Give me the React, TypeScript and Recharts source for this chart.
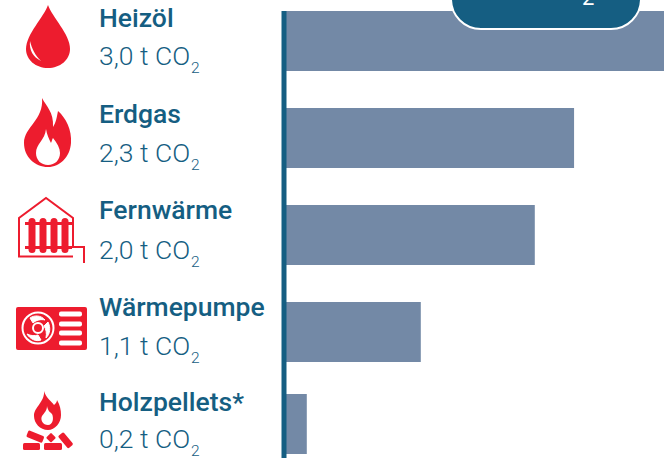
import React from "react";
import { BarChart, Bar, XAxis, YAxis } from "recharts";

const categories = ["Heizöl", "Erdgas", "Fernwärme", "Wärmepumpe", "Holzpellets*"];
const co2Labels = ["3,0 t CO", "2,3 t CO", "2,0 t CO", "1,1 t CO", "0,2 t CO"];
const barValues = [3.0, 2.29, 1.98, 1.08, 0.18];
const rowRanks = [0, 1, 2, 3, 3.95];

const data = categories.map((name, i) => ({ name, value: barValues[i], rank: rowRanks[i] }));

const BLUE = "#155e82";
const BAR = "#7389a6";
const RED = "#ed1c2e";
const FONT = "Roboto, sans-serif";

function Drop() {
  return (
    <g>
      <path d="M48 5 C52 17 70 34 70 49 C70 60 60 68 48 68 C36 68 26 60 26 49 C26 34 44 17 48 5 Z" fill={RED} />
      <path d="M30 41 C29 50 33 57 41 61 C35 55 32 49 30 41 Z" fill="#fff" />
    </g>
  );
}

function Flame() {
  return (
    <g>
      <path d="M42 98 C46 106 54 112 53 127 C56 123 57 116 58 111 C66 118 72 130 71 143 C70 157 60 167 48 167 C35 167 24 157 24 143 C24 127 44 120 42 98 Z" fill={RED} />
      <path d="M46 129 C47 135 49 139 51 143 C52 141 52 139 53 138 C57 143 60 148 60 153 C60 160 55 165 48 165 C41 165 36 160 36 153 C36 144 45 140 46 129 Z" fill="#fff" />
    </g>
  );
}

function House() {
  return (
    <g>
      <path d="M73 256.5 L19 256.5 L19 218 L46 198 L73 218 L73 247" fill="none" stroke={RED} strokeWidth={2} />
      <path d="M66 247 L84 247 L84 263" fill="none" stroke={RED} strokeWidth={2} />
      {[32, 43, 54, 65].map((x) => (
        <rect key={x} x={x - 3.5} y={218} width={7} height={35} rx={3.5} fill={RED} />
      ))}
      <rect x={25} y={222} width={47} height={3} fill={RED} />
      <rect x={25} y={246} width={47} height={3} fill={RED} />
    </g>
  );
}

function Pump() {
  return (
    <g>
      <rect x={16} y={307} width={71} height={43} rx={2} fill={RED} />
      <circle cx={38} cy={328} r={15.5} fill="none" stroke="#fff" strokeWidth={2} />
      <circle cx={38} cy={328} r={5} fill="none" stroke="#fff" strokeWidth={2} />
      <path d="M30 318 C34 315 41 315 45 320 C41 319 36 320 33 323 Z M48 322 C51 328 50 334 46 338 C47 333 46 329 44 326 Z M41 340 C36 342 30 339 27 334 C31 336 35 336 38 335 Z" fill="#fff" stroke="#fff" strokeWidth={1} />
      {[314, 324, 333, 343].map((y) => (
        <rect key={y} x={59} y={y - 2.5} width={23} height={5} rx={2} fill="#fff" />
      ))}
    </g>
  );
}

function Fire() {
  return (
    <g>
      <path d="M44 391 C46 398 52 402 54 405 C56 403 57 402 57 400 C60 405 61 410 61 415 C61 423 55 430 48 430 C40 430 34 423 34 416 C34 407 45 402 44 391 Z" fill={RED} />
      <path d="M47 406 C48 411 50 412 52 414 C54 418 53 425 48 425 C43 425 40 420 42 416 C44 413 47 411 47 406 Z" fill="#fff" />
      <rect x={23} y={443} width={17} height={7} rx={1.5} fill={RED} />
      <rect x={44} y={443} width={18} height={7} rx={1.5} fill={RED} />
      <rect x={27} y={433} width={17} height={7} rx={1.5} transform="rotate(22 35 436)" fill={RED} />
      <rect x={58} y={437} width={16} height={7} rx={1.5} transform="rotate(50 66 440)" fill={RED} />
      <rect x={48} y={434} width={7} height={7} rx={1} transform="rotate(45 51 437)" fill={RED} />
    </g>
  );
}

const icons = [Drop, Flame, House, Pump, Fire];
const headingDy = [-14, -15, -16, -16, -13];
const valueDy = [24, 24, 24, 23, 24];

function RowTick(props: any) {
  const { y, payload } = props;
  const i = rowRanks.indexOf(payload.value);
  if (i < 0) return null;
  const Icon = icons[i];
  return (
    <g>
      <Icon />
      <text x={99} y={y + headingDy[i]} fontFamily={FONT} fontSize={26.5} fontWeight={500} fill={BLUE}>
        {categories[i]}
      </text>
      <text x={99} y={y + valueDy[i]} fontFamily={FONT} fontSize={26.5} fontWeight={300} fill={BLUE}>
        {co2Labels[i]}
      </text>
      <text x={191} y={y + valueDy[i] + 8} fontFamily={FONT} fontSize={15.5} fontWeight={300} fill={BLUE}>
        2
      </text>
    </g>
  );
}

export default function App() {
  return (
    <div style={{ position: "absolute", left: 0, top: 0, width: 667, height: 458 }}>
      <BarChart
        width={667}
        height={458}
        data={data}
        layout="vertical"
        margin={{ top: 11, right: 3, bottom: 0, left: 0 }}
      >
        <XAxis type="number" hide domain={[0, 3]} />
        <YAxis
          type="number"
          dataKey="rank"
          width={284}
          domain={[-0.31, 4.3]}
          ticks={rowRanks}
          interval={0}
          allowDataOverflow
          tick={RowTick}
          tickLine={false}
          axisLine={{ stroke: BLUE, strokeWidth: 5 }}
        />
        <Bar dataKey="value" fill={BAR} barSize={60} isAnimationActive={false} />
      </BarChart>
      <svg width={667} height={458} style={{ position: "absolute", left: 0, top: 0, pointerEvents: "none" }}>
        <rect x={451} y={-40} width={190} height={69} rx={30} fill={BLUE} stroke="#fff" strokeWidth={2} />
        <text x={582} y={5} fontFamily={FONT} fontSize={22} fontWeight={400} fill="#fff">
          2
        </text>
      </svg>
    </div>
  );
}
